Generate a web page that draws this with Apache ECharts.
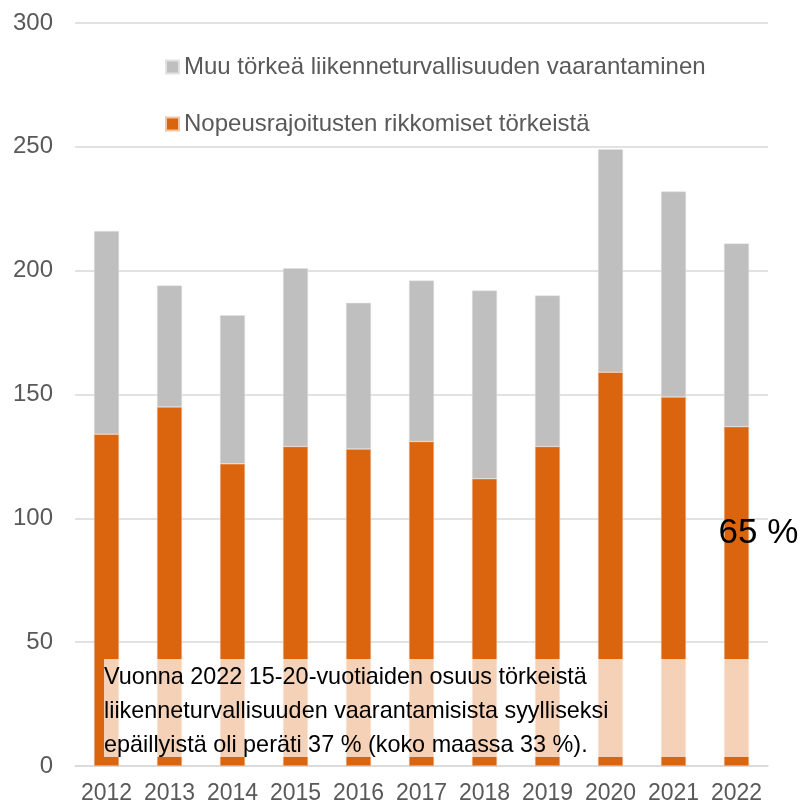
<!DOCTYPE html>
<html>
<head>
<meta charset="utf-8">
<script src="https://cdn.jsdelivr.net/npm/echarts@6/dist/echarts.min.js"></script>
<style>
  html, body { margin: 0; padding: 0; background: #fff; }
  #chart { width: 805px; height: 805px; }
</style>
</head>
<body>
<div id="chart"></div>
<script>
// data
const years = ["2012", "2013", "2014", "2015", "2016", "2017", "2018", "2019", "2020", "2021", "2022"];
const speeding = [134, 145, 122, 129, 128, 131, 116, 129, 159, 149, 137];
const otherOffences = [82, 49, 60, 72, 59, 65, 76, 61, 90, 83, 74];
const seriesNames = ["Nopeusrajoitusten rikkomiset törkeistä", "Muu törkeä liikenneturvallisuuden vaarantaminen"];
const noteLines = [
    "Vuonna 2022 15-20-vuotiaiden osuus törkeistä",
    "liikenneturvallisuuden vaarantamisista syylliseksi",
    "epäillyistä oli peräti 37 % (koko maassa 33 %)."
];
const shareLabel = "65 %";

const font = "Liberation Sans, Arial, sans-serif";
const chart = echarts.init(document.getElementById("chart"));

const option = {
    animation: false,
    textStyle: { fontFamily: font },
    grid: { left: 75, right: 37, top: 23, bottom: 38 },
    legend: {
        orient: "vertical",
        left: 160,
        top: 50,
        itemGap: 33,
        itemWidth: 13,
        itemHeight: 13,
        icon: "rect",
        data: [seriesNames[1], seriesNames[0]],
        textStyle: { fontSize: 24, color: "#595959", fontFamily: font }
    },
    xAxis: {
        type: "category",
        data: years,
        axisTick: { show: false },
        axisLine: { lineStyle: { color: "#d9d9d9", width: 1.5 } },
        axisLabel: { fontSize: 23, color: "#595959", margin: 16, interval: 0, hideOverlap: false }
    },
    yAxis: {
        type: "value",
        min: 0,
        max: 300,
        interval: 50,
        axisLabel: { fontSize: 24, color: "#595959", margin: 22 },
        splitLine: { lineStyle: { color: "#d9d9d9", width: 1.5 } }
    },
    series: [
        {
            name: seriesNames[0],
            type: "bar",
            stack: "total",
            barWidth: 25,
            data: speeding,
            itemStyle: { color: "#da650e", borderColor: "#f0c7a6", borderWidth: 0.5 },
            markPoint: {
                symbol: "rect",
                symbolSize: 1,
                itemStyle: { color: "transparent" },
                label: { show: true, formatter: shareLabel, fontSize: 35, color: "#000", offset: [22, 0] },
                data: [{ coord: ["2022", 94] }]
            }
        },
        {
            name: seriesNames[1],
            type: "bar",
            stack: "total",
            barWidth: 25,
            data: otherOffences,
            itemStyle: { color: "#bfbfbf", borderColor: "#e2e2e2", borderWidth: 0.5 }
        }
    ],
    graphic: [
        {
            type: "rect",
            z: 100,
            left: 104,
            top: 659,
            shape: { width: 651, height: 98 },
            style: { fill: "rgba(255,255,255,0.7)" }
        },
        {
            type: "text",
            z: 101,
            left: 104,
            top: 661,
            style: {
                text: noteLines.join("\n"),
                font: "23.4px " + font,
                fill: "#000",
                lineHeight: 34
            }
        }
    ]
};

chart.setOption(option);
</script>
</body>
</html>
